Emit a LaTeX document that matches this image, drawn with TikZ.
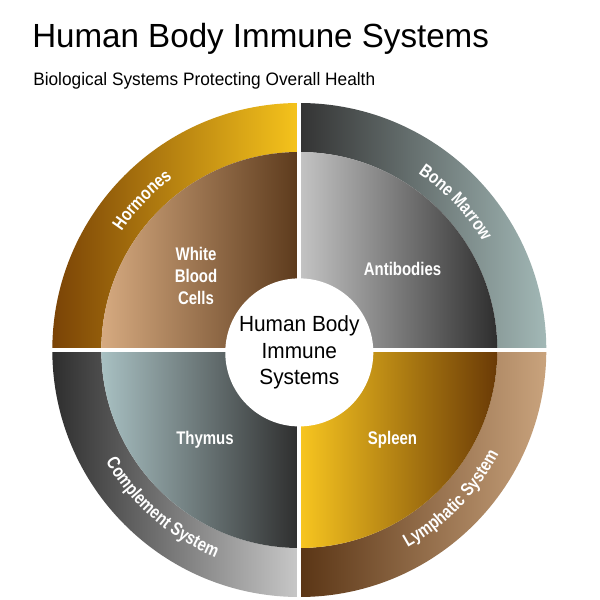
\documentclass[tikz,border=0pt]{standalone}
\usepackage{fontspec}
\setmainfont{Liberation Sans}
\newfontfamily\ttlfont{Liberation Sans}[FakeStretch=0.99]
\newfontfamily\subfont{Liberation Sans}[FakeStretch=0.96]
\newfontfamily\ctrfont{Liberation Sans}[FakeStretch=0.95]
\newfontfamily\lblfont{Liberation Sans}[FakeStretch=0.82]
\usetikzlibrary{decorations.text}
\definecolor{hormL}{HTML}{7A4306}
\definecolor{hormR}{HTML}{F6C41C}
\definecolor{wbcL}{HTML}{D6AA80}
\definecolor{wbcR}{HTML}{5C3A1C}
\definecolor{boneL}{HTML}{333333}
\definecolor{boneR}{HTML}{A2B8B6}
\definecolor{antiL}{HTML}{C4C4C4}
\definecolor{antiR}{HTML}{2E2E2E}
\definecolor{thyL}{HTML}{A8C0C2}
\definecolor{thyR}{HTML}{2E2E2E}
\definecolor{compL}{HTML}{2E2E2E}
\definecolor{compR}{HTML}{C8C8C8}
\definecolor{splL}{HTML}{F8C620}
\definecolor{splR}{HTML}{6A3A06}
\definecolor{lymL}{HTML}{5A3515}
\definecolor{lymR}{HTML}{C9A37D}
\tikzset{
  inlabel/.style={text=white, font=\lblfont\bfseries\fontsize{13}{15.6}\selectfont, align=center, inner sep=0pt},
  ringlabel/.style={decorate, decoration={text along path, text color=white, text align=center, text={|\lblfont\bfseries\fontsize{13}{15}\selectfont|#1}}},
  gapline/.style={white, line width=0.1cm}
}
\begin{document}
\begin{tikzpicture}[x=0.025cm,y=0.025cm]
\useasboundingbox[fill=white] (0,0) rectangle (600,600);
\coordinate (c) at (299.3,250);
\node[anchor=base west, inner sep=0pt, font=\ttlfont\fontsize{23.8}{28}\selectfont] (title) at (32,552) {Human Body Immune Systems};
\node[anchor=base west, inner sep=0pt, font=\subfont\fontsize{12.8}{15}\selectfont] (subtitle) at (33,514) {Biological Systems Protecting Overall Health};
\begin{scope}[shift={(c)}]
  % outer ring
  \shade[left color=hormL, right color=hormR] (180:247) arc[start angle=180,end angle=90,radius=247] -- (90:198) arc[start angle=90,end angle=180,radius=198] -- cycle;
  \shade[left color=boneL, right color=boneR] (90:247) arc[start angle=90,end angle=0,radius=247] -- (0:198) arc[start angle=0,end angle=90,radius=198] -- cycle;
  \shade[left color=compL, right color=compR] (180:247) arc[start angle=180,end angle=270,radius=247] -- (270:198) arc[start angle=270,end angle=180,radius=198] -- cycle;
  \shade[left color=lymL, right color=lymR] (270:247) arc[start angle=270,end angle=360,radius=247] -- (0:198) arc[start angle=360,end angle=270,radius=198] -- cycle;
  % inner quadrants
  \shade[left color=wbcL, right color=wbcR] (0,0) -- (180:198) arc[start angle=180,end angle=90,radius=198] -- cycle;
  \shade[left color=antiL, right color=antiR] (0,0) -- (90:198) arc[start angle=90,end angle=0,radius=198] -- cycle;
  \shade[left color=thyL, right color=thyR] (0,0) -- (180:198) arc[start angle=180,end angle=270,radius=198] -- cycle;
  \shade[left color=splL, right color=splR] (0,0) -- (270:198) arc[start angle=270,end angle=360,radius=198] -- cycle;
  % white gaps
  \draw[gapline] (0,-252) -- (0,252);
  \draw[gapline] (-252,0) -- (252,0);
  % ring labels
  \path[ringlabel=Hormones] (176.4:213.5) arc[start angle=176.4,end angle=96.4,radius=213.5];
  \path[ringlabel=Bone Marrow] (83.3:213) arc[start angle=83.3,end angle=3.3,radius=213];
  \path[ringlabel=Complement System] (189:223.5) arc[start angle=189,end angle=269,radius=223.5];
  \path[ringlabel=Lymphatic System] (275.6:225) arc[start angle=275.6,end angle=355.6,radius=225];
\end{scope}
\node[circle, fill=white, minimum size=3.7cm, inner sep=0pt, align=center, font=\ctrfont\fontsize{15.6}{18.8}\selectfont] (ctr) at ([yshift=-0.06cm]c) {Human Body\\Immune\\Systems};
\node[inlabel] (wbc) at (196,324) {White\\Blood\\Cells};
\node[inlabel, anchor=base] (anti) at (402.5,324) {Antibodies};
\node[inlabel, anchor=base] (thy) at (205,155) {Thymus};
\node[inlabel, anchor=base] (spl) at (392.5,155) {Spleen};
\end{tikzpicture}
\end{document}
